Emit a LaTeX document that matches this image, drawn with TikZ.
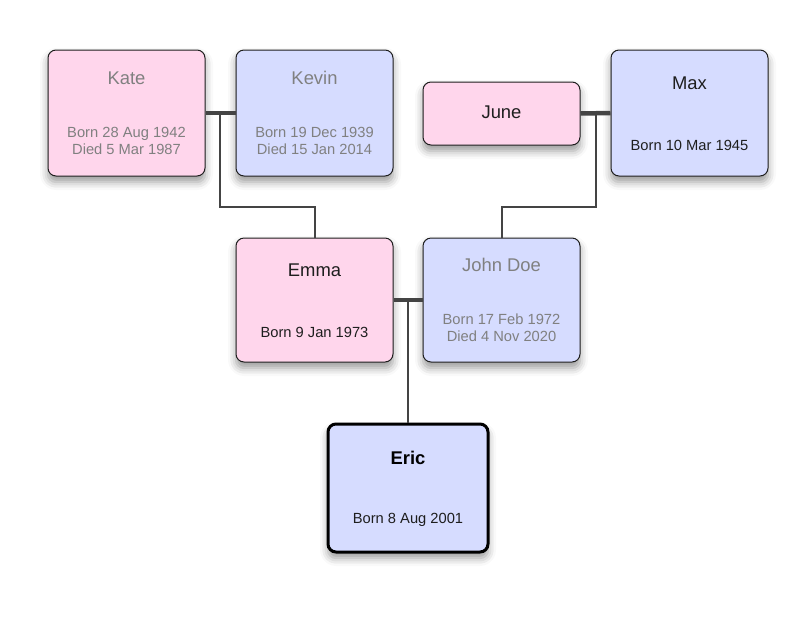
\documentclass[tikz,border=0pt]{standalone}
\usepackage{fontspec}
\setmainfont{Liberation Sans}
\usetikzlibrary{shadows.blur}
\definecolor{pinkf}{RGB}{255,214,236}
\definecolor{bluef}{RGB}{214,220,255}
\definecolor{dead}{RGB}{128,128,128}
\definecolor{alive}{RGB}{30,30,30}
\definecolor{conn}{RGB}{68,68,68}
\tikzset{
  person/.style={draw={rgb,255:red,30;green,30;blue,30}, line width=1pt, rounded corners=8pt, inner sep=0pt,
    blur shadow={shadow xshift=0pt, shadow yshift=-6pt, shadow blur radius=8pt, shadow opacity=40}},
  female/.style={person, fill=pinkf},
  male/.style={person, fill=bluef},
  nm/.style={font=\fontsize{18.4}{20}\selectfont, inner sep=0pt},
  info/.style={font=\fontsize{14.7}{17}\selectfont, inner sep=0pt, align=center},
  couple/.style={draw=conn, line width=4.5pt},
  descent/.style={draw=conn, line width=2pt}
}
\begin{document}
\begin{tikzpicture}[x=1pt,y=-1pt]
\useasboundingbox (0,0) rectangle (797,638);
% boxes
\node[female, minimum width=157pt, minimum height=126pt] (kate) at (126.5,113) {};
\node[male, minimum width=157pt, minimum height=126pt] (kevin) at (314.5,113) {};
\node[female, minimum width=157pt, minimum height=63pt] (june) at (501.5,113.5) {};
\node[male, minimum width=157pt, minimum height=126pt] (max) at (689.5,113) {};
\node[female, minimum width=157pt, minimum height=124pt] (emma) at (314.5,300) {};
\node[male, minimum width=157pt, minimum height=124pt] (john) at (501.5,300) {};
\node[male, line width=3pt, draw=black, minimum width=160pt, minimum height=128pt] (eric) at (408,488) {};
% texts
\node[nm, text=dead] (katen) at (126.5,78) {Kate};
\node[info, text=dead] (kated) at (126.5,140.5) {Born 28 Aug 1942\\Died 5 Mar 1987};
\node[nm, text=dead] (kevinn) at (314.5,78) {Kevin};
\node[info, text=dead] (kevind) at (314.5,140.5) {Born 19 Dec 1939\\Died 15 Jan 2014};
\node[nm, text=alive] (junen) at (501.5,112) {June};
\node[nm, text=alive] (maxn) at (689.5,83) {Max};
\node[info, text=alive] (maxd) at (689.5,145) {Born 10 Mar 1945};
\node[nm, text=alive] (emman) at (314.5,270) {Emma};
\node[info, text=alive] (emmad) at (314.5,332) {Born 9 Jan 1973};
\node[nm, text=dead] (johnn) at (501.5,265) {John Doe};
\node[info, text=dead] (johnd) at (501.5,327.5) {Born 17 Feb 1972\\Died 4 Nov 2020};
\node[nm, text=black, font=\fontsize{18.4}{20}\selectfont\bfseries] (ericn) at (408,458) {Eric};
\node[info, text=alive] (ericd) at (408,520) {Born 8 Aug 2001};
% couples
\coordinate (k1) at (220,113);
\coordinate (k2) at (220,207);
\coordinate (k3) at (315,207);
\coordinate (j1) at (596,113);
\coordinate (j2) at (596,207);
\coordinate (j3) at (502,207);
\coordinate (e1) at (408,300);
\draw[couple] (kate.east) -- (kevin.west);
\draw[couple] (june.east) -- (max.west);
\draw[couple] (emma.east) -- (john.west);
\draw[descent] (k1) -- (k2) -- (k3) -- (emma.north -| k3);
\draw[descent] (j1) -- (j2) -- (j3) -- (john.north -| j3);
\draw[descent] (e1) -- (eric.north);
\end{tikzpicture}
\end{document}
